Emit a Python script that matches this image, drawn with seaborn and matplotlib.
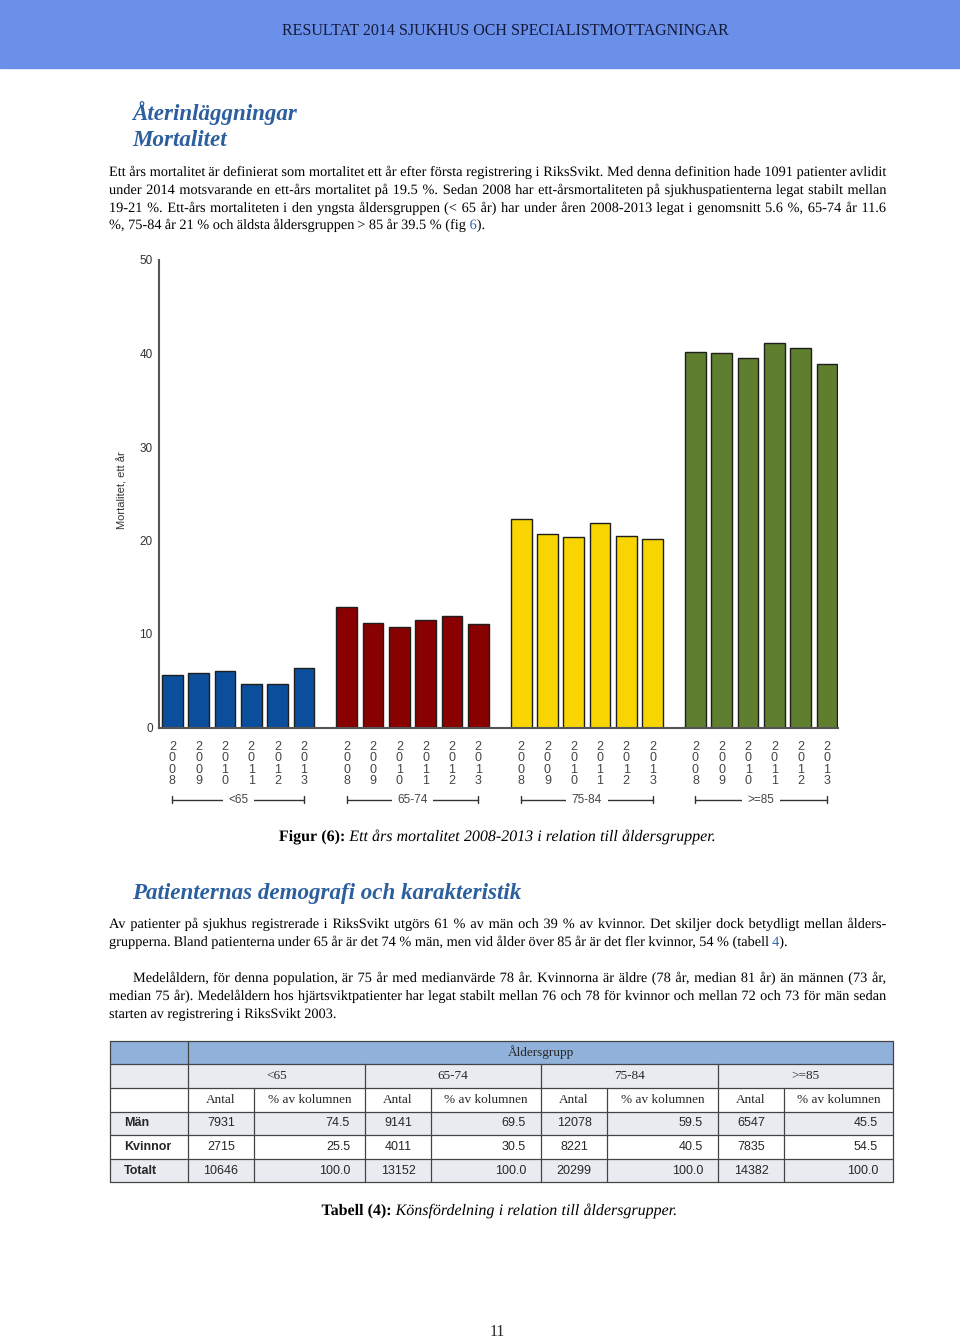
import numpy as np
import pandas as pd
import matplotlib.pyplot as plt
import matplotlib.transforms as mtrans
import matplotlib.patheffects as pe
from matplotlib.patches import Rectangle
import seaborn as sns

# --- chart data ---
years = [2008, 2009, 2010, 2011, 2012, 2013]
age_groups = ['<65', '65-74', '75-84', '>=85']
mort_lt65 = [5.6, 5.8, 6.0, 4.7, 4.7, 6.4]
mort_65_74 = [12.9, 11.15, 10.7, 11.5, 11.95, 11.05]
mort_75_84 = [22.3, 20.7, 20.4, 21.9, 20.5, 20.2]
mort_ge85 = [40.2, 40.1, 39.5, 41.1, 40.6, 38.9]
bar_colors = ['#0b4f9c', '#880000', '#f8d500', '#5f7f2f']

# --- table data ---
table_rows = ['Män', 'Kvinnor', 'Totalt']
antal_man = [7931, 9141, 12078, 6547]
antal_kvinnor = [2715, 4011, 8221, 7835]
antal_totalt = [10646, 13152, 20299, 14382]
pct_man = [74.5, 69.5, 59.5, 45.5]
pct_kvinnor = [25.5, 30.5, 40.5, 54.5]
pct_totalt = [100.0, 100.0, 100.0, 100.0]

header_text = 'RESULTAT 2014 SJUKHUS OCH SPECIALISTMOTTAGNINGAR'
para1 = ['Ett års mortalitet är definierat som mortalitet ett år efter första registrering i RiksSvikt. Med denna definition hade 1091 patienter avlidit',
         'under 2014 motsvarande en ett-års mortalitet på 19.5 %. Sedan 2008 har ett-årsmortaliteten på sjukhuspatienterna legat stabilt mellan',
         '19-21 %. Ett-års mortaliteten i den yngsta åldersgruppen (< 65 år) har under åren 2008-2013 legat i genomsnitt 5.6 %, 65-74 år 11.6']
para2 = ['Av patienter på sjukhus registrerade i RiksSvikt utgörs 61 % av män och 39 % av kvinnor. Det skiljer dock betydligt mellan ålders-']
para3 = ['Medelåldern, för denna population, är 75 år med medianvärde 78 år. Kvinnorna är äldre (78 år, median 81 år) än männen (73 år,',
         'median 75 år). Medelåldern hos hjärtsviktpatienter har legat stabilt mellan 76 och 78 för kvinnor och mellan 72 och 73 för män sedan']

SERIF = 'Liberation Serif'
SANS = 'Liberation Sans'
HEAD_BLUE = '#2c5f9e'
LINK = {'color': '#2f62b0'}
BODY = 10.3
CAP = 11.5

sns.set_style('white')

fig = plt.figure(figsize=(9.6, 13.38), dpi=100)
page = fig.add_axes([0, 0, 1, 1])
page.set_xlim(0, 960)
page.set_ylim(1338, 0)
page.axis('off')
renderer = fig.canvas.get_renderer()


def text_w(s, **kw):
    t = page.text(0, 0, s, **kw)
    w = t.get_window_extent(renderer).width
    t.remove()
    return w


def draw_line(y, segments, x0=None, x1=None, xc=None, size=BODY, family=SERIF):
    # words placed one by one so a line can be justified between x0 and x1
    units = []
    pending = False
    for text, style in segments:
        for i, part in enumerate(text.split(' ')):
            if i > 0:
                pending = True
            if part:
                units.append((part, style, pending and len(units) > 0))
                pending = False
    # drawn as paths so every word sits on the same baseline
    base = dict(fontsize=size, family=family, color='black', va='baseline', ha='left',
                path_effects=[pe.Normal()])
    widths = [text_w(part, **{**base, **style}) for part, style, _ in units]
    n_sp = sum(sp for _, _, sp in units)
    gap = text_w('x x', **base) - text_w('xx', **base)
    if x1 is not None and n_sp:
        gap = (x1 - x0 - sum(widths)) / n_sp
    if xc is not None:
        x0 = xc - (sum(widths) + gap * n_sp) / 2
    x = x0
    for (part, style, sp), w in zip(units, widths):
        if sp:
            x += gap
        page.text(x, y, part, **{**base, **style})
        x += w


# header band
page.add_patch(Rectangle((0, 0), 960, 68, color='#6a90e9', zorder=0))
page.text(505, 35, header_text, ha='center', va='baseline', fontsize=11.5,
          family=SERIF, color='#141a3c')

# headings
head = dict(fontsize=16.6, family=SERIF, fontweight='bold', fontstyle='italic',
            color=HEAD_BLUE, va='baseline')
page.text(132, 120, 'Återinläggningar', **head)
page.text(132, 146, 'Mortalitet', **head)

for i, line in enumerate(para1):
    draw_line(176 + 18 * i, [(line, {})], 109, 886)
draw_line(229, [('%, 75-84 år 21 % och äldsta åldersgruppen > 85 år 39.5 % (fig ', {}),
                ('6', LINK), (').', {})], 109)

# ---- chart ----
values = [mort_lt65, mort_65_74, mort_75_84, mort_ge85]
df = pd.DataFrame({'grupp': np.repeat(age_groups, len(years)),
                   'år': np.tile(years, len(age_groups)),
                   'mortalitet': np.concatenate(values)})
gidx = np.repeat(np.arange(len(age_groups)), len(years))
yidx = np.tile(np.arange(len(years)), len(age_groups))
df['pos'] = gidx * (len(years) - 1 + 1.63) + yidx

ax = fig.add_axes([159 / 960, 1 - 727.5 / 1338, 679 / 960, 467.5 / 1338])
ax.patch.set_alpha(0)
sns.barplot(data=df, x='pos', y='mortalitet', hue='grupp', palette=bar_colors,
            native_scale=True, dodge=False, width=0.79, saturation=1,
            edgecolor='#1e1e1e', linewidth=1, legend=False, ax=ax)
ax.set_xticks(df['pos'])
ax.set_xticklabels(['\n'.join(str(y)) for y in df['år']], fontsize=9,
                   linespacing=0.9, color='#444', family=SANS)
ax.set_xlim(-0.51, 25.31)
ax.set_ylim(0, 50)
ax.set_yticks([0, 10, 20, 30, 40, 50])
ax.tick_params(axis='x', length=0, pad=10)
ax.tick_params(axis='y', length=2.5, width=1, color='#555', labelsize=8.5,
               labelcolor='#333', pad=2)
for lab in ax.get_yticklabels():
    lab.set_family(SANS)
for s in ['top', 'right']:
    ax.spines[s].set_visible(False)
for s in ['left', 'bottom']:
    ax.spines[s].set_color('#555')
    ax.spines[s].set_linewidth(1.5)
ax.set_xlabel('')
ax.set_ylabel('Mortalitet, ett år', fontsize=8, color='#333', family=SANS)
ax.yaxis.set_label_coords(-0.046, 0.508)

trans = mtrans.blended_transform_factory(ax.transData, ax.transAxes)
yb = -0.155
for g in age_groups:
    sub = df[df['grupp'] == g]
    xa, xb = sub['pos'].min(), sub['pos'].max()
    ax.plot([xa, xb], [yb, yb], transform=trans, color='#333', lw=1, clip_on=False)
    for xe in (xa, xb):
        ax.plot([xe, xe], [yb - 0.0075, yb + 0.0075], transform=trans, color='#333',
                lw=1, clip_on=False)
    ax.text((xa + xb) / 2, yb, g, transform=trans, ha='center', va='center',
            fontsize=8.5, color='#444', family=SANS, clip_on=False,
            bbox=dict(fc='white', ec='none', pad=4))

draw_line(841, [('Figur (6):', {'fontweight': 'bold'}),
                (' Ett års mortalitet 2008-2013 i relation till åldersgrupper.', {'fontstyle': 'italic'})],
          xc=497.5, size=CAP)

page.text(132, 899, 'Patienternas demografi och karakteristik', **head)

draw_line(928, [(para2[0], {})], 109, 886)
draw_line(946, [('grupperna. Bland patienterna under 65 år är det 74 % män, men vid ålder över 85 år är det fler kvinnor, 54 % (tabell ', {}),
                ('4', LINK), (').', {})], 109)
draw_line(982, [(para3[0], {})], 133, 886)
draw_line(1000, [(para3[1], {})], 109, 886)
draw_line(1018, [('starten av registrering i RiksSvikt 2003.', {})], 109)

# ---- table ----
col_edges = [110, 188, 254, 365, 431, 541, 607, 718, 784, 893]
row_edges = [1041, 1064, 1088, 1112, 1135, 1159, 1182]
fills = ['#90b1da', '#e8ecf1', 'white', '#e8ecf1', 'white', '#e8ecf1']
line_c = '#444'
for r, fc in enumerate(fills):
    page.add_patch(Rectangle((col_edges[0], row_edges[r]), col_edges[-1] - col_edges[0],
                             row_edges[r + 1] - row_edges[r], fc=fc, ec='none', zorder=1))
for ye in row_edges:
    page.plot([col_edges[0], col_edges[-1]], [ye, ye], color=line_c, lw=0.9, zorder=2)
for xe in (col_edges[0], col_edges[1], col_edges[-1]):
    page.plot([xe, xe], [row_edges[0], row_edges[-1]], color=line_c, lw=0.9, zorder=2)
for xe in col_edges[3:-1:2]:
    page.plot([xe, xe], [row_edges[1], row_edges[-1]], color=line_c, lw=0.9, zorder=2)
for xe in col_edges[2:-1:2]:
    page.plot([xe, xe], [row_edges[2], row_edges[-1]], color=line_c, lw=0.9, zorder=2)


def row_mid(r):
    return (row_edges[r] + row_edges[r + 1]) / 2


tcell = dict(va='center', zorder=3, fontsize=9.5, family=SERIF)
page.text((col_edges[1] + col_edges[-1]) / 2, row_mid(0), 'Åldersgrupp', ha='center', **tcell)
for k, g in enumerate(age_groups):
    xa, xm, xb = col_edges[1 + 2 * k], col_edges[2 + 2 * k], col_edges[3 + 2 * k]
    page.text((xa + xb) / 2, row_mid(1), g, ha='center', **tcell)
    page.text((xa + xm) / 2, row_mid(2), 'Antal', ha='center', **tcell)
    page.text((xm + xb) / 2, row_mid(2), '% av kolumnen', ha='center', **tcell)

num = dict(va='center', zorder=3, fontsize=9, family=SANS)
rows_antal = [antal_man, antal_kvinnor, antal_totalt]
rows_pct = [pct_man, pct_kvinnor, pct_totalt]
for r, name in enumerate(table_rows):
    page.text(124, row_mid(3 + r), name, ha='left', fontweight='bold', **num)
    for k in range(len(age_groups)):
        xa, xm, xb = col_edges[1 + 2 * k], col_edges[2 + 2 * k], col_edges[3 + 2 * k]
        page.text((xa + xm) / 2, row_mid(3 + r), str(rows_antal[r][k]), ha='center', **num)
        page.text(xb - 15, row_mid(3 + r), f'{rows_pct[r][k]:.1f}', ha='right', **num)

draw_line(1215, [('Tabell (4):', {'fontweight': 'bold'}),
                 (' Könsfördelning i relation till åldersgrupper.', {'fontstyle': 'italic'})],
          xc=499.5, size=CAP)

page.text(497, 1336, '11', ha='center', va='baseline', fontsize=11.5, family=SERIF)

fig.savefig('out.png', dpi=100)
